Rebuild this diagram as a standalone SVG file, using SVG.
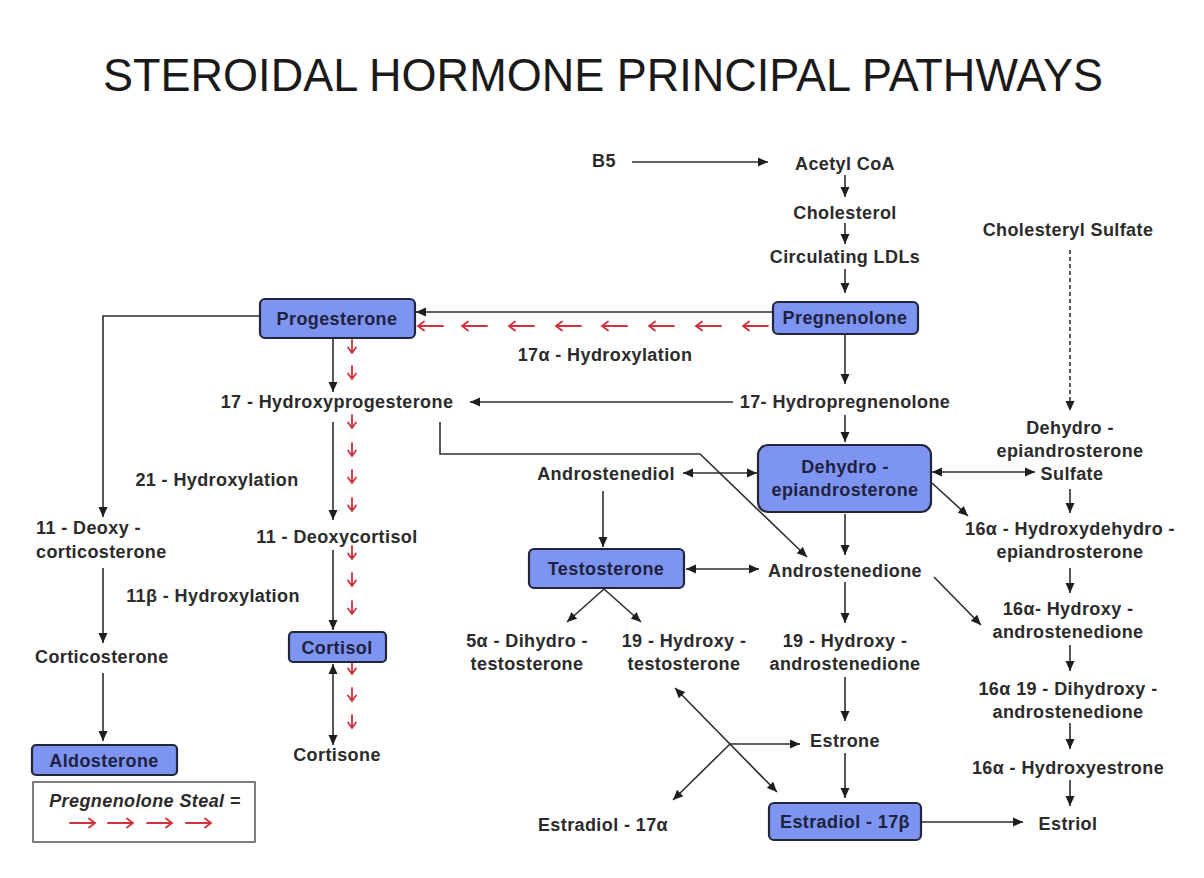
<svg xmlns="http://www.w3.org/2000/svg" xmlns:xlink="http://www.w3.org/1999/xlink" width="1204" height="878" viewBox="0 0 1204 878">
<style>
text{font-family:"Liberation Sans",Arial,sans-serif;font-weight:bold;font-size:18px;letter-spacing:0.4px;fill:#2b2b2b;text-anchor:middle}
.title{font-weight:normal;font-size:46px;letter-spacing:0;fill:#1a1a1a}
.box{fill:#7d95f0;stroke:#23253a;stroke-width:2.2}
.bt{fill:#1e2240}
.ln{fill:none;stroke:#2e2e2e;stroke-width:1.6}
.a{marker-end:url(#ah)}
.aa{marker-end:url(#ah);marker-start:url(#ah)}
.ra{fill:none;stroke:#d0313c;stroke-width:1.8;stroke-linecap:round}
.st{text-anchor:start}
</style>
<defs>
<marker id="ah" markerUnits="userSpaceOnUse" markerWidth="10" markerHeight="10" viewBox="0 0 10 10" refX="10" refY="5" orient="auto-start-reverse">
<path d="M0,0.5 L10,5 L0,9.5 z" fill="#1e1e1e"/>
</marker>
<path id="rr" class="ra" d="M0,0 H25 M19,-4.5 L25,0 L19,4.5"/>
<path id="rd" class="ra" d="M0,0 V13 M-4,7.5 L0,13 L4,7.5"/>
</defs>
<rect width="1204" height="878" fill="#ffffff"/>
<text class="title" x="603" y="91" textLength="1000" lengthAdjust="spacingAndGlyphs">STEROIDAL HORMONE PRINCIPAL PATHWAYS</text>

<g id="connectors">
<line class="ln a" x1="632" y1="162" x2="768" y2="162"/>
<line class="ln a" x1="845" y1="175" x2="845" y2="197"/>
<line class="ln a" x1="845" y1="223" x2="845" y2="244"/>
<line class="ln a" x1="845" y1="269" x2="845" y2="293"/>
<line class="ln a" x1="773" y1="312" x2="416" y2="312"/>
<polyline class="ln a" points="260,316 103,316 103,517"/>
<line class="ln a" x1="333" y1="339" x2="333" y2="392"/>
<line class="ln a" x1="845" y1="335" x2="845" y2="384"/>
<line class="ln a" x1="733" y1="402" x2="470" y2="402"/>
<line class="ln a" x1="845" y1="415" x2="845" y2="442"/>
<line class="ln a" x1="333" y1="422" x2="333" y2="520"/>
<line class="ln a" x1="333" y1="550" x2="333" y2="630"/>
<line class="ln aa" x1="333" y1="664" x2="333" y2="745"/>
<line class="ln a" x1="103" y1="568" x2="103" y2="643"/>
<line class="ln a" x1="103" y1="673" x2="103" y2="741"/>
<polyline class="ln a" points="440,422 440,454 700,454 807,557"/>
<line class="ln aa" x1="683" y1="473" x2="757" y2="473"/>
<line class="ln a" x1="603" y1="491" x2="603" y2="547"/>
<line class="ln aa" x1="686" y1="569" x2="759" y2="569"/>
<line class="ln a" x1="845" y1="514" x2="845" y2="555"/>
<line class="ln aa" x1="932" y1="472" x2="1035" y2="472"/>
<line class="ln a" x1="1070" y1="250" x2="1070" y2="411" stroke-dasharray="4,3" stroke="#666"/>
<line class="ln a" x1="1070" y1="489" x2="1070" y2="513"/>
<line class="ln a" x1="932" y1="483" x2="968" y2="516"/>
<line class="ln a" x1="1070" y1="568" x2="1070" y2="593"/>
<line class="ln a" x1="934" y1="577" x2="981" y2="625"/>
<line class="ln a" x1="1070" y1="645" x2="1070" y2="671"/>
<line class="ln a" x1="1070" y1="723" x2="1070" y2="749"/>
<line class="ln a" x1="1070" y1="780" x2="1070" y2="806"/>
<line class="ln a" x1="921" y1="822" x2="1023" y2="822"/>
<line class="ln a" x1="845" y1="582" x2="845" y2="623"/>
<line class="ln a" x1="845" y1="677" x2="845" y2="721"/>
<line class="ln a" x1="845" y1="753" x2="845" y2="798"/>
<line class="ln a" x1="604" y1="589" x2="567" y2="622"/>
<line class="ln a" x1="604" y1="589" x2="641" y2="622"/>
<line class="ln aa" x1="675" y1="688" x2="777" y2="792"/>
<line class="ln a" x1="730" y1="744" x2="800" y2="744"/>
<line class="ln a" x1="730" y1="744" x2="673" y2="800"/>
</g>

<g id="steal-arrows">
<use xlink:href="#rr" transform="translate(768,326) scale(-1,1)"/>
<use xlink:href="#rr" transform="translate(721,326) scale(-1,1)"/>
<use xlink:href="#rr" transform="translate(674,326) scale(-1,1)"/>
<use xlink:href="#rr" transform="translate(627,326) scale(-1,1)"/>
<use xlink:href="#rr" transform="translate(581,326) scale(-1,1)"/>
<use xlink:href="#rr" transform="translate(534,326) scale(-1,1)"/>
<use xlink:href="#rr" transform="translate(487,326) scale(-1,1)"/>
<use xlink:href="#rr" transform="translate(443,326) scale(-1,1)"/>
<use xlink:href="#rd" x="352" y="340"/>
<use xlink:href="#rd" x="352" y="366"/>
<use xlink:href="#rd" x="352" y="415"/>
<use xlink:href="#rd" x="352" y="443"/>
<use xlink:href="#rd" x="352" y="470"/>
<use xlink:href="#rd" x="352" y="498"/>
<use xlink:href="#rd" x="352" y="546"/>
<use xlink:href="#rd" x="352" y="573"/>
<use xlink:href="#rd" x="352" y="601"/>
<use xlink:href="#rd" x="352" y="661"/>
<use xlink:href="#rd" x="352" y="688"/>
<use xlink:href="#rd" x="352" y="715"/>
</g>

<g id="b5"><text x="604" y="167" font-size="15">B5</text></g>
<g id="acetyl-coa"><text x="845" y="170">Acetyl CoA</text></g>
<g id="cholesterol"><text x="845" y="219">Cholesterol</text></g>
<g id="ldls"><text x="845" y="263">Circulating LDLs</text></g>
<g id="pregnenolone"><rect class="box" x="773" y="302" width="145" height="32" rx="5"/><text class="bt" x="845" y="324">Pregnenolone</text></g>
<g id="progesterone"><rect class="box" x="260" y="299" width="155" height="39" rx="5"/><text class="bt" x="337" y="325">Progesterone</text></g>
<g id="hydroxylation17"><text x="605" y="361">17α - Hydroxylation</text></g>
<g id="hydroxyprogesterone17"><text x="337" y="408">17 - Hydroxyprogesterone</text></g>
<g id="hydropregnenolone17"><text x="845" y="408">17- Hydropregnenolone</text></g>
<g id="dhea"><rect class="box" x="758" y="445" width="173" height="67" rx="10"/><text class="bt" x="845" y="473">Dehydro -</text><text class="bt" x="845" y="496">epiandrosterone</text></g>
<g id="cholesteryl-sulfate"><text x="1068" y="236">Cholesteryl Sulfate</text></g>
<g id="dhea-s"><text x="1070" y="434">Dehydro -</text><text x="1070" y="457">epiandrosterone</text><text x="1072" y="480">Sulfate</text></g>
<g id="androstenediol"><text x="606" y="480">Androstenediol</text></g>
<g id="hydroxylation21"><text x="217" y="486">21 - Hydroxylation</text></g>
<g id="deoxycorticosterone"><text class="st" x="36" y="534">11 - Deoxy -</text><text class="st" x="36" y="558">corticosterone</text></g>
<g id="deoxycortisol"><text x="337" y="543">11 - Deoxycortisol</text></g>
<g id="hydroxydhea16"><text x="1070" y="535">16α - Hydroxydehydro -</text><text x="1070" y="558">epiandrosterone</text></g>
<g id="testosterone"><rect class="box" x="529" y="549" width="155" height="39" rx="5"/><text class="bt" x="606" y="575">Testosterone</text></g>
<g id="androstenedione"><text x="845" y="577">Androstenedione</text></g>
<g id="hydroxylation11b"><text x="213" y="602">11β - Hydroxylation</text></g>
<g id="hydroxyandrostenedione16"><text x="1068" y="615">16α- Hydroxy -</text><text x="1068" y="638">androstenedione</text></g>
<g id="dht"><text x="527" y="647">5α - Dihydro -</text><text x="527" y="670">testosterone</text></g>
<g id="hydroxytestosterone19"><text x="684" y="647">19 - Hydroxy -</text><text x="684" y="670">testosterone</text></g>
<g id="hydroxyandrostenedione19"><text x="845" y="647">19 - Hydroxy -</text><text x="845" y="670">androstenedione</text></g>
<g id="cortisol"><rect class="box" x="289" y="632" width="97" height="30" rx="4"/><text class="bt" x="337" y="654">Cortisol</text></g>
<g id="corticosterone"><text class="st" x="35" y="663">Corticosterone</text></g>
<g id="dihydroxy1619"><text x="1068" y="695">16α 19 - Dihydroxy -</text><text x="1068" y="718">androstenedione</text></g>
<g id="estrone"><text x="845" y="747">Estrone</text></g>
<g id="aldosterone"><rect class="box" x="32" y="745" width="145" height="30" rx="4"/><text class="bt" x="104" y="767">Aldosterone</text></g>
<g id="cortisone"><text x="337" y="761">Cortisone</text></g>
<g id="hydroxyestrone16"><text x="1068" y="774">16α - Hydroxyestrone</text></g>
<g id="estradiol17a"><text x="603" y="831">Estradiol - 17α</text></g>
<g id="estradiol17b"><rect class="box" x="769" y="803" width="152" height="37" rx="5"/><text class="bt" x="845" y="828">Estradiol - 17β</text></g>
<g id="estriol"><text x="1068" y="830">Estriol</text></g>
<g id="legend">
<rect x="33" y="782" width="222" height="60" fill="#fff" stroke="#555" stroke-width="1.5"/>
<text x="145" y="807" font-style="italic">Pregnenolone Steal =</text>
<use xlink:href="#rr" x="70" y="823"/>
<use xlink:href="#rr" x="108" y="823"/>
<use xlink:href="#rr" x="147" y="823"/>
<use xlink:href="#rr" x="186" y="823"/>
</g>
</svg>
